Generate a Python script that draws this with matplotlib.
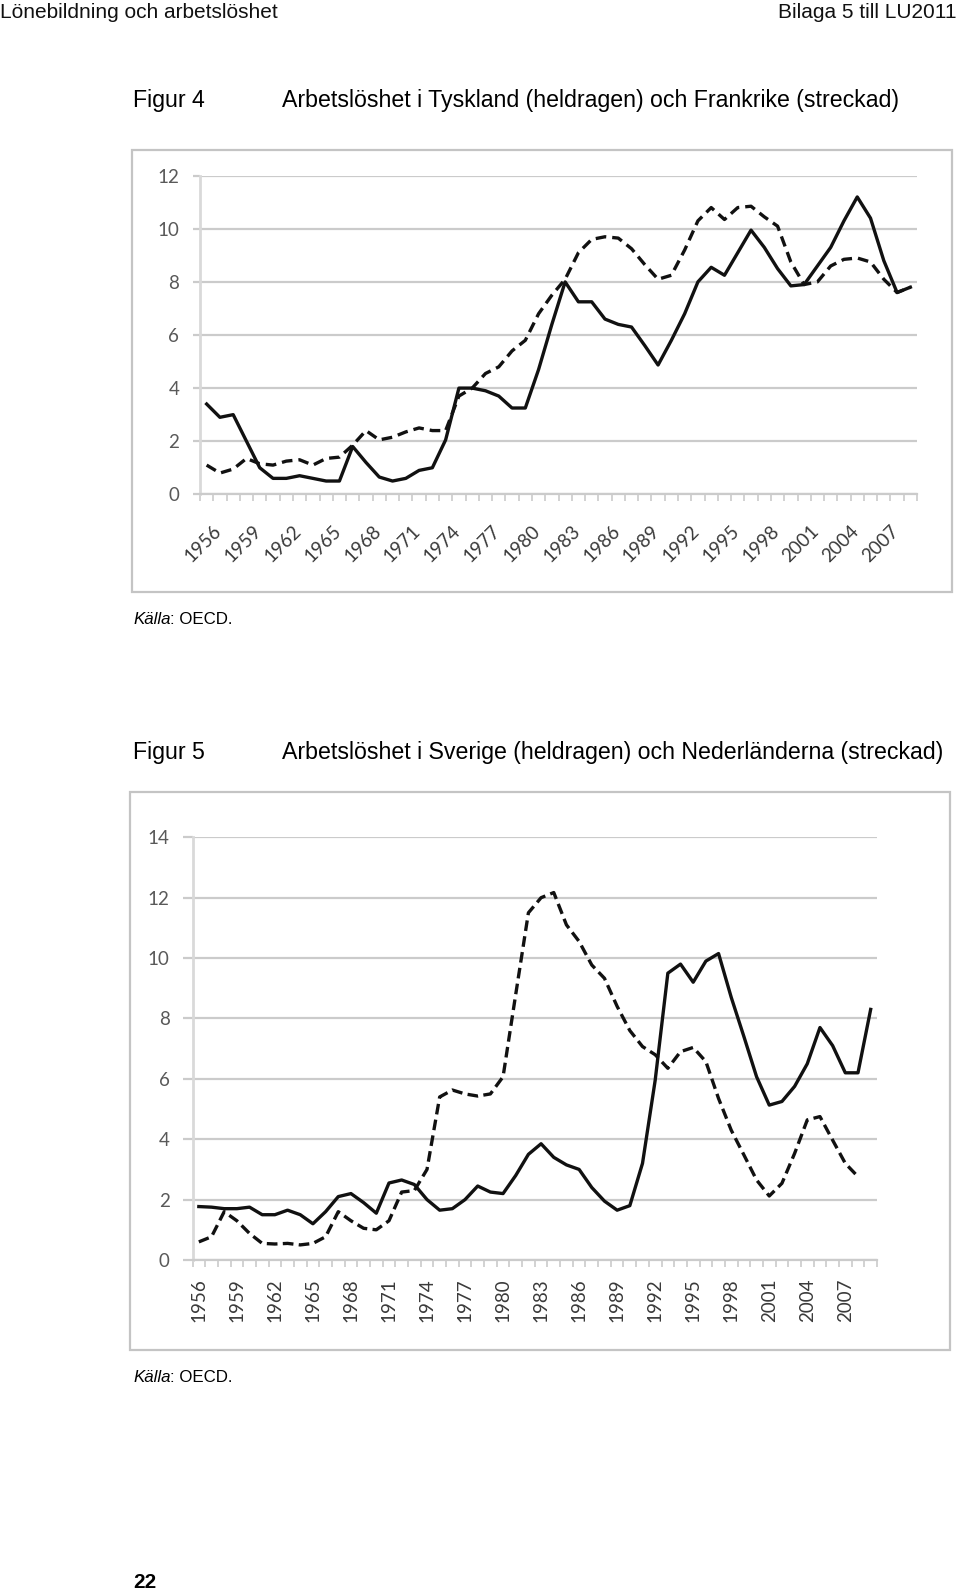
import numpy as np
import matplotlib
matplotlib.use("Agg")
import matplotlib.pyplot as plt
from matplotlib.patches import Rectangle
from matplotlib.transforms import ScaledTranslation
from matplotlib import font_manager as fm

# ---- data (% unemployment) ----
years = list(range(1956, 2010))
tyskland = [3.4, 2.9, 3.0, 2.0, 1.0, 0.6, 0.6, 0.7, 0.6, 0.5, 0.5, 1.8, 1.2, 0.65, 0.5,
            0.6, 0.9, 1.0, 2.05, 4.0, 4.0, 3.9, 3.7, 3.25, 3.25, 4.7, 6.4, 8.0, 7.25, 7.25,
            6.6, 6.4, 6.3, 5.6, 4.87, 5.8, 6.8, 8.0, 8.55, 8.25, 9.1, 9.95, 9.3, 8.5, 7.85,
            7.9, 8.6, 9.3, 10.3, 11.2, 10.4, 8.8, 7.6, 7.8]
frankrike = [1.1, 0.8, 0.95, 1.35, 1.15, 1.1, 1.25, 1.3, 1.1, 1.35, 1.4, 1.85, 2.4, 2.05, 2.15,
             2.35, 2.5, 2.4, 2.4, 3.7, 4.0, 4.55, 4.8, 5.4, 5.8, 6.8, 7.5, 8.1, 9.1, 9.6,
             9.7, 9.65, 9.25, 8.65, 8.1, 8.25, 9.2, 10.3, 10.8, 10.35, 10.8, 10.85, 10.45, 10.1, 8.75,
             7.9, 8.0, 8.6, 8.85, 8.9, 8.75, 8.1, 7.6, 7.8]
sverige = [1.77, 1.75, 1.7, 1.7, 1.75, 1.5, 1.5, 1.65, 1.5, 1.2, 1.6, 2.1, 2.2, 1.9, 1.55,
           2.55, 2.65, 2.5, 2.0, 1.65, 1.7, 2.0, 2.45, 2.25, 2.2, 2.8, 3.5, 3.85, 3.4, 3.15,
           3.0, 2.4, 1.95, 1.65, 1.8, 3.2, 5.95, 9.5, 9.8, 9.2, 9.9, 10.15, 8.7, 7.4, 6.07,
           5.13, 5.25, 5.75, 6.5, 7.7, 7.1, 6.2, 6.2, 8.3]
nederlanderna = [0.6, 0.77, 1.6, 1.3, 0.88, 0.55, 0.53, 0.55, 0.5, 0.55, 0.77, 1.6, 1.3, 1.05, 1.0,
                 1.3, 2.25, 2.3, 3.0, 5.4, 5.63, 5.5, 5.43, 5.5, 6.07, 8.8, 11.5, 12.0, 12.17, 11.1,
                 10.55, 9.77, 9.33, 8.4, 7.6, 7.07, 6.8, 6.35, 6.9, 7.04, 6.57, 5.35, 4.3, 3.48, 2.65,
                 2.12, 2.54, 3.53, 4.64, 4.75, 3.97, 3.2, 2.76]
label_years = list(range(1956, 2008, 3))
yticks1 = [0, 2, 4, 6, 8, 10, 12]
yticks2 = [0, 2, 4, 6, 8, 10, 12, 14]

W, H = 960, 1590

names = {f.name for f in fm.fontManager.ttflist}
NARROW = "Liberation Sans Narrow" if "Liberation Sans Narrow" in names else "Liberation Sans"
CHART = "Lato" if "Lato" in names else "DejaVu Sans"

GRID = "#cbcbcb"
LBL = "#595959"


def fx(x):
    return x / W


def fy(y):
    return 1 - y / H


def make_axes(fig, left, right, top, bottom):
    return fig.add_axes([fx(left), fy(bottom), (right - left) / W, (bottom - top) / H])


fig = plt.figure(figsize=(9.6, 15.9), dpi=100)

# page texts
fig.text(fx(0), fy(12), "Lönebildning och arbetslöshet", family=NARROW, fontsize=15,
         ha="left", va="center", color="#111111")
fig.text(fx(956), fy(12), "Bilaga 5 till LU2011", family=NARROW, fontsize=15,
         ha="right", va="center", color="#111111")
fig.text(fx(133), fy(101), "Figur 4", family=NARROW, fontsize=16.7, ha="left", va="center")
fig.text(fx(282), fy(101), "Arbetslöshet i Tyskland (heldragen) och Frankrike (streckad)",
         family=NARROW, fontsize=16.7, ha="left", va="center")
fig.text(fx(133), fy(752), "Figur 5", family=NARROW, fontsize=16.7, ha="left", va="center")
fig.text(fx(282), fy(752), "Arbetslöshet i Sverige (heldragen) och Nederländerna (streckad)",
         family=NARROW, fontsize=16.7, ha="left", va="center")

for yk in (619, 1377):
    t1 = fig.text(fx(133), fy(yk), "Källa", family=NARROW, fontsize=12.2, style="italic",
                  ha="left", va="center")
    fig.add_artist(plt.Annotation(": OECD.", xy=(1, 0), xycoords=t1, family=NARROW,
                                  fontsize=12.2, ha="left", va="bottom"))

fig.text(fx(133), fy(1583), "22", family="Liberation Sans", fontsize=15, weight="bold",
         ha="left", va="center")

# chart frames
for (l, t, r, b) in [(132, 150, 952, 592), (130, 792, 950, 1350)]:
    fig.add_artist(Rectangle((fx(l), fy(b)), (r - l) / W, (b - t) / H, transform=fig.transFigure,
                             fill=False, edgecolor="#c4c4c4", linewidth=1.6))

x = np.arange(len(years))


def style_axes(ax, ymax, yticks, ytick_len, ypad):
    ax.set_xlim(-0.5, len(years) - 0.5)
    ax.set_ylim(0, ymax)
    for s in ["top", "right"]:
        ax.spines[s].set_visible(False)
    ax.spines["left"].set_color("#d9d9d9")
    ax.spines["left"].set_linewidth(2.0)
    ax.spines["bottom"].set_color(GRID)
    ax.spines["bottom"].set_linewidth(1.6)
    ax.set_yticks(yticks)
    ax.set_yticklabels([str(v) for v in yticks])
    ax.tick_params(axis="y", length=ytick_len, width=1.6, color=GRID, pad=ypad,
                   labelsize=13.5, labelcolor=LBL)
    for lbl in ax.get_yticklabels():
        lbl.set_family(CHART)
    ax.grid(axis="y", color=GRID, linewidth=1.6)
    ax.set_axisbelow(True)
    # category boundary ticks
    ax.set_xticks(np.arange(len(years) + 1) - 0.5)
    ax.set_xticklabels([])
    ax.tick_params(axis="x", which="major", length=5, width=1.2, color=GRID)


# ---------------- Figur 4 ----------------
ax1 = make_axes(fig, 200, 917, 175.7, 494.3)
style_axes(ax1, 12, yticks1, 5, 10)
ax1.plot(x, tyskland, color="#111111", linewidth=2.4, solid_joinstyle="round")
ax1.plot(x, frankrike, color="#111111", linewidth=2.4, linestyle=(0, (3.2, 1.8)))
lpos = [years.index(y) for y in label_years]
ax1.set_xticks(lpos, [str(y) for y in label_years], minor=True)
ax1.tick_params(axis="x", which="minor", length=0, pad=20, labelsize=13.5, labelcolor="#3a3a3a")
for lbl in ax1.get_xticklabels(minor=True):
    lbl.set_family(CHART)
    lbl.set_rotation(45)
    lbl.set_rotation_mode("anchor")
    lbl.set_ha("right")
    lbl.set_va("top")
    lbl.set_transform(lbl.get_transform() + ScaledTranslation(6 / 100, 0, fig.dpi_scale_trans))

# ---------------- Figur 5 ----------------
ax2 = make_axes(fig, 192.5, 877, 837.3, 1260)
style_axes(ax2, 14, yticks2, 7, 9.5)
ax2.plot(x, sverige, color="#111111", linewidth=2.4, solid_joinstyle="round")
ax2.plot(x[:len(nederlanderna)], nederlanderna, color="#111111", linewidth=2.4,
         linestyle=(0, (3.2, 1.6)))
ax2.set_xticks(lpos, [str(y) for y in label_years], minor=True)
ax2.tick_params(axis="x", which="minor", length=0, pad=13, labelsize=13.5, labelcolor="#3a3a3a")
for lbl in ax2.get_xticklabels(minor=True):
    lbl.set_family(CHART)
    lbl.set_rotation(90)
    lbl.set_ha("center")
    lbl.set_va("top")

fig.savefig("out.png", dpi=100)
